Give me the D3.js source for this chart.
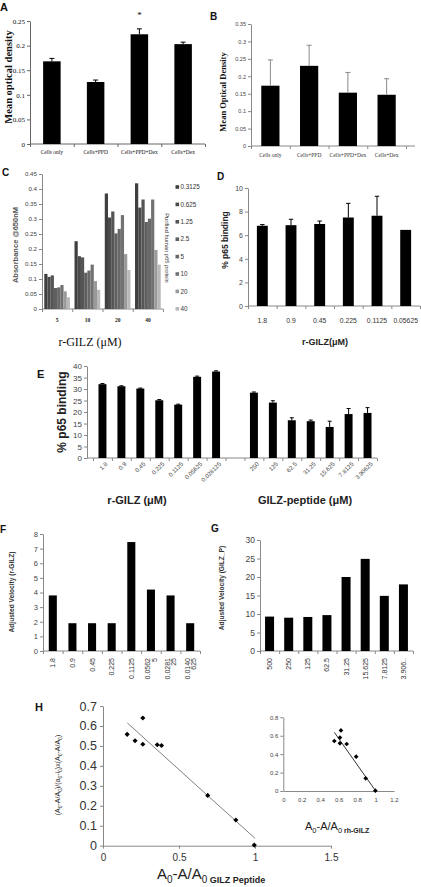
<!DOCTYPE html>
<html><head><meta charset="utf-8">
<script src="https://cdn.jsdelivr.net/npm/d3@7"></script>
<style>
body{margin:0;background:#fff;}
svg{display:block;}
</style></head><body>
<svg id="fig" width="421" height="887" font-family="'Liberation Sans',Arial,sans-serif"></svg>
<script>
// ---------------- DATA ----------------
const aCats = ["Cells only","Cells+PPD","Cells+PPD+Dex","Cells+Dex"];
const aVals = [0.168,0.126,0.223,0.203];
const aErr  = [0.006,0.004,0.011,0.004];
const aTicks = [0,0.05,0.1,0.15,0.2,0.25];

const bCats = ["Cells only","Cells+PPD","Cells+PPD+Dex","Cells+Dex"];
const bVals = [0.173,0.230,0.153,0.147];
const bErr  = [0.074,0.059,0.058,0.046];
const bTicks = [0,0.05,0.1,0.15,0.2,0.25,0.3,0.35];

const cGroups = ["5","10","20","40"];
const cSeries = ["0.3125","0.625","1.25","2.5","5","10","20","40"];
const cVals5  = [0.117,0.107,0.112,0.070,0.072,0.080,0.059,0.039];
const cVals10 = [0.226,0.176,0.172,0.121,0.128,0.148,0.093,0.064];
const cVals20 = [0.385,0.305,0.325,0.252,0.267,0.313,0.183,0.130];
const cVals40 = [0.419,0.338,0.365,0.290,0.301,0.365,0.197,0.148];
const cTicks = [0,0.05,0.1,0.15,0.2,0.25,0.3,0.35,0.4,0.45];
const cColors = ["#3f3f3f","#4a4a4a","#555555","#5f5f5f","#686868","#727272","#9a9a9a","#b9b9b9"];

const dCats = ["1.8","0.9","0.45","0.225","0.1125","0.05625"];
const dVals = [6.8,6.85,6.95,7.5,7.65,6.45];
const dErr  = [0.1,0.5,0.25,1.2,1.65,0];
const dTicks = [0,2,4,6,8,10];

const eGilzCats = ["1.8","0.9","0.45","0.225","0.1125","0.05625","0.028125"];
const eGilzVals = [32.1,31.2,30.2,25.1,23.2,35.3,37.6];
const eGilzErr  = [0.3,0.2,0.2,0.3,0.2,0.3,0.3];
const ePepCats = ["250","125","62.5","31.25","15.625","7.8125","3.90625"];
const ePepVals = [28.4,24.1,16.4,16.0,13.5,19.1,19.6];
const ePepErr  = [0.3,0.8,1.1,0.5,2.5,2.4,2.3];
const eTicks = [0,5,10,15,20,25,30,35,40];

const fCats = ["1.8","0.9","0.45","0.225","0.1125","0.05625","0.028125","0.0140625"];
const fVals = [3.8,1.9,1.9,1.9,7.45,4.2,3.8,1.9];
const fTicks = [0,1,2,3,4,5,6,7,8];

const gCats = ["500","250","125","62.5","31.25","15.625","7.8125","3.90625"];
const gVals = [9.3,9.0,9.2,9.7,20.0,24.9,14.9,18.0];
const gTicks = [0,5,10,15,20,25,30];

const hX = [0.159,0.211,0.262,0.262,0.357,0.385,0.689,0.874,0.995];
const hY = [0.558,0.526,0.508,0.640,0.506,0.502,0.252,0.129,0.003];
const hTrendX = [0.16,1.0];
const hTrendY = [0.615,0.037];
const hXTicks = [0,0.5,1,1.5];
const hYTicks = [0,0.1,0.2,0.3,0.4,0.5,0.6,0.7];

const iX = [0.553,0.614,0.614,0.625,0.687,0.790,0.893,0.998];
const iY = [0.543,0.580,0.518,0.658,0.510,0.373,0.138,0.004];
const iTrendX = [0.553,0.994];
const iTrendY = [0.637,0.011];
const iXTicks = [0,0.2,0.4,0.6,0.8,1,1.2];
const iYTicks = [0,0.2,0.4,0.6,0.8];

// ---------------- HELPERS ----------------
const svg = d3.select("#fig");
const SANS = "'Liberation Sans',Arial,sans-serif";
const SERIF = "'Liberation Serif','Times New Roman',serif";

function styleAxis(a, o) {
  a.attr("font-family", o.ff || SANS);
  a.select(".domain").attr("stroke", o.line || "#888");
  a.selectAll(".tick line").attr("stroke", o.line || "#888");
  a.selectAll(".tick text").attr("font-size", o.fs).attr("fill", o.fc || "#333")
    .attr("font-weight", o.fw || null);
}

function yAxis(g, y, ticks, x, o) {
  const a = g.append("g").attr("transform", `translate(${x},0)`)
    .call(d3.axisLeft(y).tickValues(ticks).tickSize(o.ts ?? 3).tickSizeOuter(0)
      .tickPadding(o.pad ?? 2).tickFormat(d => String(d)));
  styleAxis(a, o);
  return a;
}

function panelLetter(t, x, y, fs) {
  svg.append("text").attr("x", x).attr("y", y).attr("font-size", fs || 11)
    .attr("font-weight", "bold").attr("fill", "#111").text(t);
}

function rotLabel(t, x, y, o) {
  return svg.append("text").attr("transform", `translate(${x},${y}) rotate(-90)`)
    .attr("text-anchor", "middle").attr("dy", "0.35em")
    .attr("font-size", o.fs).attr("font-weight", o.fw || "bold")
    .attr("font-family", o.ff || SANS).attr("fill", o.fc || "#222").text(t);
}

function rich(sel, parts, subSize) {
  let prevSub = false;
  parts.forEach(([s, sub]) => {
    const ts = sel.append("tspan").text(s);
    if (sub) ts.attr("font-size", subSize).attr("dy", subSize * 0.35);
    else if (prevSub) ts.attr("dy", -subSize * 0.35);
    prevSub = !!sub;
  });
  return prevSub;
}

function barPanel(o) {
  const g = svg.append("g");
  const n = o.cats.length;
  const x = d3.scaleBand().domain(o.cats).range([o.x0, o.x1]).paddingInner(o.pad).paddingOuter(o.pad / 2);
  const y = d3.scaleLinear().domain([0, o.yMax]).range([o.yBot, o.yTop]);
  const line = o.line || "#888";
  g.append("line").attr("x1", o.axisX).attr("x2", o.axisEnd).attr("y1", y(0)).attr("y2", y(0)).attr("stroke", line);
  const xb = d3.scaleLinear().domain([0, n]).range([o.x0, o.x1]);
  const bt = g.append("g").attr("transform", `translate(0,${y(0)})`)
    .call(d3.axisBottom(xb).tickValues(d3.range(n + 1)).tickSize(3).tickSizeOuter(0).tickFormat(""));
  bt.select(".domain").remove();
  bt.selectAll(".tick line").attr("stroke", line);
  yAxis(g, y, o.ticks, o.axisX, o.yo);
  const rows = o.cats.map((c, i) => ({ c, v: o.vals[i], e: o.err ? o.err[i] : 0 })).filter(d => d.v != null);
  g.selectAll("rect.bar").data(rows).join("rect").attr("class", "bar")
    .attr("x", d => x(d.c)).attr("width", x.bandwidth())
    .attr("y", d => y(d.v)).attr("height", d => y(0) - y(d.v)).attr("fill", "#000");
  const eb = rows.filter(d => d.e > 0);
  const ec = o.errColor || "#000";
  const cw = o.capW || 2;
  g.selectAll("line.ev").data(eb).join("line").attr("class", "ev")
    .attr("x1", d => x(d.c) + x.bandwidth() / 2).attr("x2", d => x(d.c) + x.bandwidth() / 2)
    .attr("y1", d => y(d.v)).attr("y2", d => y(d.v + d.e)).attr("stroke", ec).attr("stroke-width", 1);
  g.selectAll("line.ec").data(eb).join("line").attr("class", "ec")
    .attr("x1", d => x(d.c) + x.bandwidth() / 2 - cw).attr("x2", d => x(d.c) + x.bandwidth() / 2 + cw)
    .attr("y1", d => y(d.v + d.e)).attr("y2", d => y(d.v + d.e)).attr("stroke", ec).attr("stroke-width", 1);
  const xa = g.append("g").attr("transform", `translate(0,${y(0) + (o.labOff || 0)})`)
    .call(d3.axisBottom(x).tickSize(0).tickPadding(0).tickFormat(o.xfmt || (d => d)));
  xa.select(".domain").remove();
  xa.attr("font-family", o.xo.ff || SANS);
  xa.selectAll(".tick text").attr("font-size", o.xo.fs).attr("fill", o.xo.fc || "#333")
    .attr("font-weight", o.xo.fw || null);
  return { g, x, y, xa };
}

function rotateLabels(xa, mode) {
  xa.selectAll(".tick text").each(function () {
    const t = d3.select(this);
    if (mode === 45) {
      t.attr("y", 0).attr("dy", "0.35em").attr("x", 0)
        .attr("transform", "translate(4,5) rotate(-45)").attr("text-anchor", "end");
    } else {
      t.attr("y", 0).attr("x", 0).attr("dy", null)
        .attr("transform", "translate(0,7) rotate(-90)").attr("text-anchor", "end");
    }
  });
}

// ---------------- PANEL A ----------------
panelLetter("A", 0, 11, 11);
const pA = barPanel({
  cats: aCats, vals: aVals, err: aErr, ticks: aTicks, yMax: 0.25,
  x0: 30, x1: 205, yBot: 144, yTop: 21, pad: 0.6, axisX: 30, axisEnd: 205,
  line: "#666", capW: 2.5, labOff: 6,
  yo: { fs: 7, ff: SERIF, fc: "#111", line: "#666" },
  xo: { fs: 5.5, ff: SERIF, fc: "#111" }
});
svg.append("text").attr("x", pA.x("Cells+PPD+Dex") + pA.x.bandwidth() / 2).attr("y", 18)
  .attr("text-anchor", "middle").attr("font-size", 9).attr("font-family", SERIF).text("*");
rotLabel("Mean optical density", 8, 77, { fs: 10.5, ff: SERIF, fc: "#111" });

// ---------------- PANEL B ----------------
panelLetter("B", 210, 20, 10);
barPanel({
  cats: bCats, vals: bVals, err: bErr, ticks: bTicks, yMax: 0.35,
  x0: 251, x1: 406, yBot: 146, yTop: 24, pad: 0.53, axisX: 251, axisEnd: 415,
  line: "#888", errColor: "#888", capW: 2.5, labOff: 7,
  yo: { fs: 5.5, fc: "#444" },
  xo: { fs: 5.5, ff: SERIF, fc: "#333" }
});
rotLabel("Mean Optical Density", 223, 92, { fs: 8.5, ff: SERIF, fc: "#111" });

// ---------------- PANEL C ----------------
panelLetter("C", 2, 176, 10);
{
  const g = svg.append("g");
  const x0 = d3.scaleBand().domain(cGroups).range([42, 163]).paddingInner(0.15).paddingOuter(0.075);
  const x1 = d3.scaleBand().domain(cSeries).range([0, x0.bandwidth()]);
  const y = d3.scaleLinear().domain([0, 0.45]).range([309, 174]);
  const color = d3.scaleOrdinal().domain(cSeries).range(cColors);
  const cAll = [cVals5, cVals10, cVals20, cVals40];
  g.append("line").attr("x1", 42).attr("x2", 163).attr("y1", y(0)).attr("y2", y(0)).attr("stroke", "#888");
  const xb = d3.scaleLinear().domain([0, 4]).range([42, 163]);
  const bt = g.append("g").attr("transform", `translate(0,${y(0)})`)
    .call(d3.axisBottom(xb).tickValues(d3.range(5)).tickSize(3).tickSizeOuter(0).tickFormat(""));
  bt.select(".domain").remove(); bt.selectAll(".tick line").attr("stroke", "#888");
  yAxis(g, y, cTicks, 42, { fs: 6.2, fc: "#444" });
  cGroups.forEach((grp, gi) => {
    g.append("g").attr("transform", `translate(${x0(grp)},0)`)
      .selectAll("rect").data(cSeries.map((s, si) => ({ s, v: cAll[gi][si] }))).join("rect")
      .attr("x", d => x1(d.s)).attr("width", x1.bandwidth()).attr("y", d => y(d.v))
      .attr("height", d => y(0) - y(d.v)).attr("fill", d => color(d.s));
  });
  const xa = g.append("g").attr("transform", `translate(0,${y(0) + 9})`)
    .call(d3.axisBottom(x0).tickSize(0).tickPadding(0));
  xa.select(".domain").remove();
  xa.attr("font-family", SERIF);
  xa.selectAll(".tick text").attr("font-size", 5.5).attr("font-weight", "bold").attr("fill", "#222");
  const lg = g.append("g");
  cSeries.forEach((s, i) => {
    const yy = 187 + i * 17.4;
    lg.append("rect").attr("x", 175.5).attr("y", yy - 1.8).attr("width", 3.6).attr("height", 3.6).attr("fill", color(s));
    lg.append("text").attr("x", 180.5).attr("y", yy).attr("dy", "0.35em").attr("font-size", 6.3).attr("fill", "#333").text(s);
  });
  svg.append("text").attr("transform", "translate(167,248) rotate(90)").attr("text-anchor", "middle")
    .attr("dy", "0.35em").attr("font-size", 5.8).attr("fill", "#333").text("Purified human p65 protein");
  svg.append("text").attr("x", 90).attr("y", 346).attr("text-anchor", "middle").attr("font-size", 12)
    .attr("font-family", SERIF).attr("fill", "#111").text("r-GILZ (\u03bcM)");
  rotLabel("Absorbance @650nM", 15, 245, { fs: 7.5, fc: "#555" });
}

// ---------------- PANEL D ----------------
panelLetter("D", 217, 180, 10);
barPanel({
  cats: dCats, vals: dVals, err: dErr, ticks: dTicks, yMax: 10,
  x0: 248, x1: 420, yBot: 306, yTop: 188, pad: 0.62, axisX: 248, axisEnd: 420,
  capW: 2.2, labOff: 12,
  yo: { fs: 7, fc: "#444" },
  xo: { fs: 6.8, fc: "#333" }
});
rotLabel("% p65 binding", 225, 240, { fs: 8.5, fc: "#222" });
svg.append("text").attr("x", 325).attr("y", 345).attr("text-anchor", "middle").attr("font-size", 9)
  .attr("font-weight", "bold").attr("fill", "#222").text("r-GILZ(\u03bcM)");

// ---------------- PANEL E ----------------
panelLetter("E", 37, 378, 11);
{
  const cats = [...eGilzCats, "", ...ePepCats];
  const vals = [...eGilzVals, null, ...ePepVals];
  const err = [...eGilzErr, 0, ...ePepErr];
  const pE = barPanel({
    cats, vals, err, ticks: eTicks, yMax: 40,
    x0: 93, x1: 377, yBot: 458, yTop: 366, pad: 0.58, axisX: 87, axisEnd: 377,
    capW: 2, labOff: 0,
    yo: { fs: 8, fc: "#444" },
    xo: { fs: 6, fc: "#444" }
  });
  rotateLabels(pE.xa, 45);
  rotLabel("% p65 binding", 62, 412, { fs: 12, fc: "#222" });
  svg.append("text").attr("x", 137).attr("y", 504).attr("text-anchor", "middle").attr("font-size", 11)
    .attr("font-weight", "bold").attr("fill", "#222").text("r-GILZ (\u03bcM)");
  svg.append("text").attr("x", 305).attr("y", 504).attr("text-anchor", "middle").attr("font-size", 11)
    .attr("font-weight", "bold").attr("fill", "#222").text("GILZ-peptide (\u03bcM)");
}

// ---------------- PANEL F ----------------
panelLetter("F", 0, 533, 10);
{
  const pF = barPanel({
    cats: fCats, vals: fVals, ticks: fTicks, yMax: 8,
    x0: 43, x1: 200, yBot: 651, yTop: 534, pad: 0.59, axisX: 43, axisEnd: 200,
    labOff: 0, yo: { fs: 7.5, fc: "#444" }, xo: { fs: 7, fc: "#333" }
  });
  rotateLabels(pF.xa, 90);
  pF.xa.selectAll(".tick text").each(function (d) {
    const t = d3.select(this);
    if (d.length > 6) {
      t.text(null);
      t.append("tspan").attr("x", 0).attr("y", -0.6).text(d.slice(0, 6));
      t.append("tspan").attr("x", 0).attr("y", 5.6).text(d.slice(6));
    } else t.attr("dy", "0.35em");
  });
  rotLabel("Adjusted Velocity (r-GILZ)", 12, 592, { fs: 6.6, fc: "#333" });
}

// ---------------- PANEL G ----------------
panelLetter("G", 211, 532, 10);
{
  const pG = barPanel({
    cats: gCats, vals: gVals, ticks: gTicks, yMax: 30,
    x0: 260, x1: 413, yBot: 651, yTop: 540, pad: 0.53, axisX: 260, axisEnd: 413,
    labOff: 0, yo: { fs: 8.5, fc: "#444" }, xo: { fs: 7, fc: "#333" },
    xfmt: d => d.length > 6 ? d.slice(0, 5) + ".." : d
  });
  rotateLabels(pG.xa, 90);
  pG.xa.selectAll(".tick text").attr("dy", "0.35em");
  rotLabel("Adjusted Velocity (GILZ_P)", 222, 588, { fs: 6.6, fc: "#333" });
}

// ---------------- PANEL H ----------------
panelLetter("H", 35, 711, 11);
{
  const g = svg.append("g");
  const x = d3.scaleLinear().domain([0, 1.5]).range([103, 331]);
  const y = d3.scaleLinear().domain([0, 0.7]).range([845.7, 706]);
  const xa = g.append("g").attr("transform", `translate(0,${y(0)})`)
    .call(d3.axisBottom(x).tickValues(hXTicks).tickSize(3).tickSizeOuter(0).tickPadding(5).tickFormat(d => String(d)));
  styleAxis(xa, { fs: 10, fc: "#333" });
  yAxis(g, y, hYTicks, x(0), { fs: 12.5, fc: "#333", pad: 3 });
  g.append("line").attr("x1", x(hTrendX[0])).attr("y1", y(hTrendY[0])).attr("x2", x(hTrendX[1])).attr("y2", y(hTrendY[1]))
    .attr("stroke", "#808080").attr("stroke-width", 1);
  const sym = d3.symbol(d3.symbolSquare, 13);
  g.selectAll("path.pt").data(hX.map((v, i) => [v, hY[i]])).join("path").attr("class", "pt")
    .attr("d", sym).attr("transform", d => `translate(${x(d[0])},${y(d[1])}) rotate(45)`).attr("fill", "#000");
  const yl = svg.append("text").attr("transform", "translate(58,775) rotate(-90)").attr("text-anchor", "middle")
    .attr("font-size", 7).attr("fill", "#222").attr("dy", "0.35em");
  rich(yl, [["(A", 0], ["0", 1], ["-A/A", 0], ["0", 1], [")/(a", 0], ["0", 1], ["-i", 0], ["0", 1], [")x(A", 0], ["0", 1], ["-A/A", 0], ["0", 1], [")", 0]], 5);
  const xl = svg.append("text").attr("x", 157).attr("y", 879).attr("font-size", 15).attr("fill", "#222");
  rich(xl, [["A", 0], ["0", 1], ["-A/A", 0], ["0", 1]], 10);
  xl.append("tspan").attr("font-size", 9).attr("font-weight", "bold").text(" GILZ Peptide");
}
// inset
{
  const g = svg.append("g");
  const x = d3.scaleLinear().domain([0, 1.2]).range([283.3, 394]);
  const y = d3.scaleLinear().domain([0, 0.8]).range([791, 717.3]);
  const xa = g.append("g").attr("transform", `translate(0,${y(0)})`)
    .call(d3.axisBottom(x).tickValues(iXTicks).tickSize(0).tickSizeOuter(0).tickPadding(7).tickFormat(d => String(d)));
  styleAxis(xa, { fs: 6, fc: "#444" });
  yAxis(g, y, iYTicks, x(0), { fs: 6, fc: "#444", ts: 3, pad: 2 });
  g.append("line").attr("x1", x(iTrendX[0])).attr("y1", y(iTrendY[0])).attr("x2", x(iTrendX[1])).attr("y2", y(iTrendY[1]))
    .attr("stroke", "#333").attr("stroke-width", 1);
  const sym = d3.symbol(d3.symbolSquare, 11);
  g.selectAll("path.pt").data(iX.map((v, i) => [v, iY[i]])).join("path").attr("class", "pt")
    .attr("d", sym).attr("transform", d => `translate(${x(d[0])},${y(d[1])}) rotate(45)`).attr("fill", "#000");
  const xl = svg.append("text").attr("x", 305).attr("y", 830).attr("font-size", 11).attr("fill", "#222");
  rich(xl, [["A", 0], ["0", 1], ["-A/A", 0], ["0", 1]], 7.5);
  xl.append("tspan").attr("font-size", 7).attr("font-weight", "bold").text(" rh-GILZ");
}
</script>
</body></html>
